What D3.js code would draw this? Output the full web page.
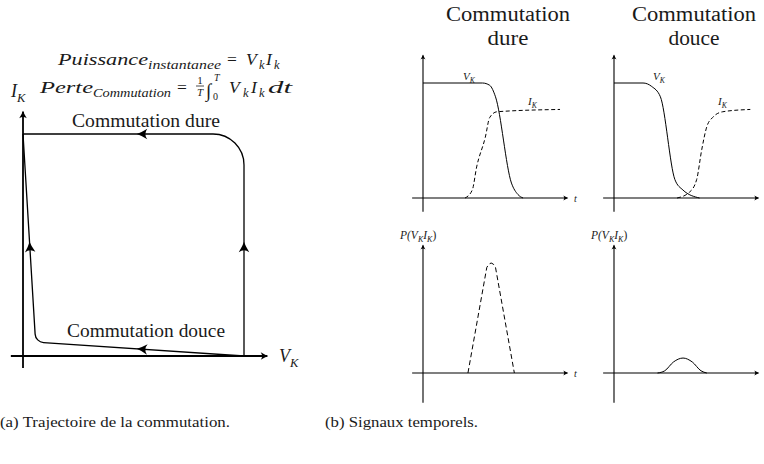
<!DOCTYPE html>
<html>
<head>
<meta charset="utf-8">
<script src="https://cdn.jsdelivr.net/npm/d3@7"></script>
<style>
  body { margin: 0; background: #fff; }
  svg { display: block; }
</style>
</head>
<body>
<div id="chart"></div>
<script>
// Data
//

// (a) trajectories in the (V_K, I_K) plane, normalised units
var hardTrajV = [1, 1, 0];
var hardTrajI = [0, 1, 1];
var softTrajV = [1, 0.057, 0];
var softTrajI = [0, 0.063, 1];

// (b) time signals, t normalised to the axis length
var hardVt = [0, 0.41, 0.46, 0.50, 0.61, 0.655, 0.69];
var hardV  = [1, 1, 0.98, 0.88, 0.13, 0.03, 0];
var hardIt = [0.29, 0.34, 0.37, 0.43, 0.46, 0.51, 0.945];
var hardI  = [0, 0.07, 0.27, 0.53, 0.70, 0.75, 0.77];

var softVt = [0, 0.20, 0.26, 0.32, 0.42, 0.475, 0.59];
var softV  = [1, 1, 0.97, 0.88, 0.16, 0.07, 0];
var softIt = [0.435, 0.52, 0.57, 0.605, 0.64, 0.68, 0.75, 0.94];
var softI  = [0, 0.05, 0.16, 0.42, 0.62, 0.70, 0.75, 0.77];

// instantaneous power P = V_K * I_K
var hardPt = [0.31, 0.44, 0.455, 0.47, 0.485, 0.50, 0.63];
var hardP  = [0, 0.96, 0.99, 1, 0.99, 0.96, 0];
var softPt = [0.30, 0.35, 0.41, 0.476, 0.54, 0.60, 0.64];
var softP  = [0, 0.02, 0.10, 0.136, 0.10, 0.02, 0];

// texts
var titleWords = ["Commutation", "dure", "douce"];
var captionA = "(a) Trajectoire de la commutation.";
var captionB = "(b) Signaux temporels.";

var SERIF = "'Liberation Serif', 'Times New Roman', 'DejaVu Serif', serif";
var INK = "#1a1a1a";

// Helpers
//

function zip(a, b) {
  return a.map(function(d, i) { return [d, b[i]]; });
}

function head(g, x, y, ang, s) {
  // LaTeX-like arrow head, tip at (x, y), pointing along ang (degrees)
  g.append("path")
    .attr("d", "M0,0 Q-4,-1.3 -10,-5 Q-6.2,0 -10,5 Q-4,1.3 0,0Z")
    .attr("fill", "#000")
    .attr("transform", "translate(" + x + "," + y + ") rotate(" + ang + ") scale(" + s + ")");
}

function word(g, str, x, y, size, italic, len, anchor) {
  var t = g.append("text")
    .attr("x", x).attr("y", y)
    .attr("font-family", SERIF)
    .attr("font-size", size)
    .attr("font-style", italic ? "italic" : "normal")
    .attr("text-anchor", anchor || "start")
    .attr("fill", INK)
    .text(str);
  if (len) t.attr("textLength", len).attr("lengthAdjust", "spacingAndGlyphs");
  return t;
}

function mtext(g, x, y, segs, size) {
  // segs: [[text, "i"|"r"|"is"|"rs"]], s = subscript
  var t = g.append("text").attr("x", x).attr("y", y)
    .attr("font-family", SERIF).attr("font-size", size).attr("fill", INK);
  var off = 0;
  segs.forEach(function(s) {
    var sub = s[1].indexOf("s") >= 0;
    var target = sub ? size * 0.28 : 0;
    t.append("tspan")
      .attr("dy", target - off)
      .attr("font-size", sub ? size * 0.7 : size)
      .attr("font-style", s[1].indexOf("i") >= 0 ? "italic" : "normal")
      .text(s[0]);
    off = target;
  });
  return t;
}

function axes(g, xs, ys, x0, x1, y0, y1, w, hs) {
  g.append("line")
    .attr("x1", xs(x0)).attr("x2", xs(x1))
    .attr("y1", ys(0)).attr("y2", ys(0))
    .attr("stroke", "#000").attr("stroke-width", w);
  head(g, xs(x1) + 1, ys(0), 0, hs);
  g.append("line")
    .attr("x1", xs(0)).attr("x2", xs(0))
    .attr("y1", ys(y0)).attr("y2", ys(y1))
    .attr("stroke", "#000").attr("stroke-width", w);
  head(g, xs(0), ys(y1) - 1, -90, hs);
}

function roundedPath(pts, r) {
  var p = d3.path();
  p.moveTo(pts[0][0], pts[0][1]);
  for (var i = 1; i < pts.length - 1; i++) {
    p.arcTo(pts[i][0], pts[i][1], pts[i + 1][0], pts[i + 1][1], r);
  }
  p.lineTo(pts[pts.length - 1][0], pts[pts.length - 1][1]);
  return p.toString();
}

var W = 764, H = 464;
var svg = d3.select("#chart").append("svg")
  .attr("width", W).attr("height", H)
  .attr("font-family", SERIF);

// (a) Trajectoire
//
var ga = svg.append("g");
var xV = d3.scaleLinear().domain([0, 1]).range([23, 244]);
var yI = d3.scaleLinear().domain([0, 1]).range([356, 134]);

axes(ga, xV, yI, -0.055, 1.105, -0.054, 1.10, 1.8, 0.75);

var hardPts = zip(hardTrajV, hardTrajI).map(function(d) { return [xV(d[0]), yI(d[1])]; });
var softPts = zip(softTrajV, softTrajI).map(function(d) { return [xV(d[0]), yI(d[1])]; });

ga.append("path").attr("d", roundedPath(hardPts, 31))
  .attr("fill", "none").attr("stroke", "#000").attr("stroke-width", 1.3);
ga.append("path").attr("d", roundedPath(softPts, 9))
  .attr("fill", "none").attr("stroke", "#000").attr("stroke-width", 1.3);

// direction arrows
head(ga, xV(0.515), yI(1), 180, 1.05);
head(ga, xV(1), yI(0.515), -90, 1.05);
var sb = d3.scaleLinear().domain([softTrajV[1], softTrajV[0]]).range([softTrajI[1], softTrajI[0]]);
var sbAng = Math.atan2(yI(softTrajI[1]) - yI(softTrajI[0]), xV(softTrajV[1]) - xV(softTrajV[0])) * 180 / Math.PI;
head(ga, xV(0.515), yI(sb(0.515)), sbAng, 1.05);
var sv = d3.scaleLinear().domain([softTrajI[1], softTrajI[2]]).range([softTrajV[1], softTrajV[2]]);
var svAng = Math.atan2(yI(softTrajI[2]) - yI(softTrajI[1]), xV(softTrajV[2]) - xV(softTrajV[1])) * 180 / Math.PI;
head(ga, xV(sv(0.515)), yI(0.515), svAng, 1.05);

// labels
word(ga, "Commutation dure", 72, 127, 17.8, false, 148);
word(ga, "Commutation douce", 67, 337, 17.8, false, 158);
mtext(ga, 11, 97, [["I", "i"], ["K", "is"]], 18);
mtext(ga, 279, 362, [["V", "i"], ["K", "is"]], 18);

// formulas
word(ga, "Puissance", 58, 65, 17.5, true, 90);
word(ga, "instantanee", 148, 68.5, 12.5, true, 73);
word(ga, "=", 227, 65, 17.5, false);
word(ga, "V", 246, 65, 17.5, true);
word(ga, "k", 259, 68.5, 12.5, true);
word(ga, "I", 266, 65, 17.5, true);
word(ga, "k", 274, 68.5, 12.5, true);

word(ga, "Perte", 40, 93, 17.5, true, 53);
word(ga, "Commutation", 93, 96.5, 12.5, true, 78);
word(ga, "=", 177, 93, 17.5, false);
word(ga, "1", 200, 83.5, 11, false, null, "middle");
ga.append("line").attr("x1", 196).attr("x2", 204).attr("y1", 86).attr("y2", 86)
  .attr("stroke", "#000").attr("stroke-width", 0.7);
word(ga, "T", 200, 95.5, 11, true, null, "middle");
word(ga, "\u222B", 206, 97, 19, false);
word(ga, "T", 214, 81, 10, true);
word(ga, "0", 213, 100, 10, false);
word(ga, "V", 229, 93, 17.5, true);
word(ga, "k", 243, 96.5, 12.5, true);
word(ga, "I", 251, 93, 17.5, true);
word(ga, "k", 259, 96.5, 12.5, true);
word(ga, "dt", 268, 93, 17.5, true, 24);

// (b) Signaux temporels
//
var gb = svg.append("g");
var panels = [
  { ox: 423, title: 508, V: [hardVt, hardV], I: [hardIt, hardI], P: [hardPt, hardP], pDash: true, t: true,
    vl: 463, il: 528, word: titleWords[1] },
  { ox: 614, title: 694, V: [softVt, softV], I: [softIt, softI], P: [softPt, softP], pDash: false, t: false,
    vl: 653, il: 718, word: titleWords[2] }
];

var line = d3.line().curve(d3.curveMonotoneX);
var lineLin = d3.line();

panels.forEach(function(p) {
  var xs = d3.scaleLinear().domain([0, 1]).range([p.ox, p.ox + 145]);
  var ysTop = d3.scaleLinear().domain([0, 1]).range([198, 83]);
  var ysBot = d3.scaleLinear().domain([0, 1]).range([373, 263]);

  word(gb, titleWords[0], p.title, 21, 20.5, false, 124, "middle");
  word(gb, p.word, p.title, 45, 20.5, false, p.word.length * 10.2, "middle");

  axes(gb, xs, ysTop, -0.075, 0.995, -0.12, 1.24, 1.1, 0.5);
  axes(gb, xs, ysBot, -0.075, 0.995, -0.27, 1.16, 1.1, 0.5);

  gb.append("path")
    .attr("d", line(zip(p.V[0], p.V[1]).map(function(d) { return [xs(d[0]), ysTop(d[1])]; })))
    .attr("fill", "none").attr("stroke", "#000").attr("stroke-width", 1);
  gb.append("path")
    .attr("d", line(zip(p.I[0], p.I[1]).map(function(d) { return [xs(d[0]), ysTop(d[1])]; })))
    .attr("fill", "none").attr("stroke", "#000").attr("stroke-width", 1)
    .attr("stroke-dasharray", "4,2.5");
  gb.append("path")
    .attr("d", (p.pDash ? lineLin : line)(zip(p.P[0], p.P[1]).map(function(d) { return [xs(d[0]), ysBot(d[1])]; })))
    .attr("fill", "none").attr("stroke", "#000").attr("stroke-width", 1)
    .attr("stroke-dasharray", p.pDash ? "5,3" : null);

  mtext(gb, p.vl, 80, [["V", "i"], ["K", "is"]], 11);
  mtext(gb, p.il, 105, [["I", "i"], ["K", "is"]], 11);
  mtext(gb, p.ox - 23, 239, [["P(", "i"], ["V", "i"], ["K", "is"], ["I", "i"], ["K", "is"], [")", "r"]], 11.5);
  if (p.t) {
    word(gb, "t", 574, 202, 10, true);
    word(gb, "t", 574, 377, 10, true);
  }
});

// captions
word(svg, captionA, 0, 427, 15.3, false, 230);
word(svg, captionB, 325, 427, 15.3, false, 153);
</script>
</body>
</html>
